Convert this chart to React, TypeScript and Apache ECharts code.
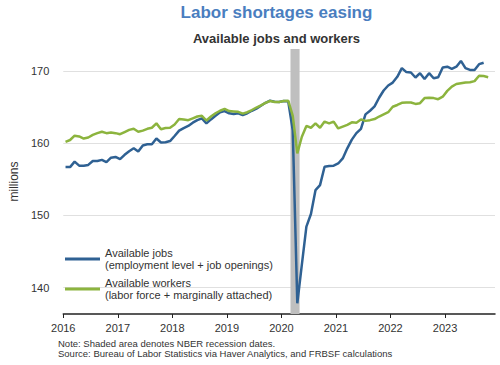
import React, { useEffect, useRef } from 'react';
import * as echarts from 'echarts';

// Monthly data, January 2016 onward (millions)
const START_YEAR = 2016;
const yearTicks = [2016, 2017, 2018, 2019, 2020, 2021, 2022, 2023];

// Available jobs (employment level + job openings), Jan 2016 – Sep 2023
const availableJobs = [
  156.7, 156.7, 157.45, 156.9, 156.9, 157.0, 157.55, 157.55, 157.7, 157.4, 158.0, 158.1,
  157.8, 158.4, 158.9, 159.3, 158.85, 159.7, 159.85, 159.85, 160.65, 160.1, 160.15, 160.3,
  161.0, 161.75, 162.1, 162.4, 162.85, 163.2, 163.45, 162.75, 163.3, 163.8, 164.3, 164.45,
  164.15, 164.05, 164.15, 163.9, 164.15, 164.5, 164.8, 165.2, 165.6, 165.9, 165.75, 165.7,
  165.85, 165.8, 161.8, 137.85, 143.2, 148.45, 150.2, 153.5, 154.2, 156.75, 156.85, 156.9,
  157.2, 157.9, 159.3, 160.5, 161.4, 162.0, 164.0, 164.5, 165.1, 166.3, 167.3, 168.0,
  168.4, 169.2, 170.4, 169.85, 169.8, 169.1, 169.7, 168.9, 169.7, 169.0, 169.15, 170.5,
  170.6, 170.3, 170.6, 171.4, 170.4, 170.15, 170.15, 170.95, 171.15,
];

// Available workers (labor force + marginally attached), Jan 2016 – Oct 2023
const availableWorkers = [
  160.2, 160.45, 161.05, 160.95, 160.65, 160.8, 161.15, 161.4, 161.6, 161.4, 161.5, 161.4,
  161.25, 161.55, 161.85, 162.0, 161.6, 161.75, 162.0, 162.15, 162.75, 161.95, 162.1, 162.15,
  162.6, 163.35, 163.3, 163.2, 163.45, 163.7, 163.8, 163.15, 163.7, 164.15, 164.5, 164.75,
  164.45, 164.4, 164.35, 164.1, 164.3, 164.6, 164.95, 165.25, 165.6, 165.85, 165.7, 165.7,
  165.85, 165.9, 163.8, 158.6, 160.9, 162.4, 162.15, 162.75, 162.15, 163.0, 162.75, 163.0,
  162.05, 162.3, 162.55, 162.9, 162.85, 163.3, 163.1, 163.2, 163.35, 163.7, 164.0, 164.3,
  165.05, 165.3, 165.6, 165.65, 165.65, 165.45, 165.55, 166.25, 166.3, 166.25, 166.1, 166.45,
  167.25, 167.85, 168.2, 168.3, 168.4, 168.45, 168.6, 169.35, 169.3, 169.15,
];

// NBER recession months shaded: March–April 2020 (year, month)
const recessionStart = [2020, 3];
const recessionEnd = [2020, 4];

const seriesNames = [
  'Available jobs\n(employment level + job openings)',
  'Available workers\n(labor force + marginally attached)',
];

const noteLines = [
  'Note: Shaded area denotes NBER recession dates.',
  'Source: Bureau of Labor Statistics via Haver Analytics, and FRBSF calculations',
];

const FONT = '"Liberation Sans", Arial, sans-serif';

const toPoints = (vals: number[]) =>
  vals.map((v, i) => [START_YEAR + (i + 0.5) / 12, v]);

export default function App() {
  const ref = useRef<HTMLDivElement>(null);

  useEffect(() => {
    document.body.style.margin = '0';
    if (!ref.current) return;
    const chart = echarts.init(ref.current, undefined, { renderer: 'svg' });
    const recStartX = recessionStart[0] + (recessionStart[1] - 1) / 12;
    const recEndX = recessionEnd[0] + recessionEnd[1] / 12;

    chart.setOption({
      animation: false,
      backgroundColor: '#ffffff',
      textStyle: { fontFamily: FONT },
      grid: { left: 58, right: 5, top: 49, bottom: 51, containLabel: false },
      graphic: [
        {
          type: 'text',
          x: 276.5,
          y: 12,
          style: {
            text: 'Labor shortages easing',
            fontFamily: FONT,
            fontSize: 17,
            fontWeight: 'bold',
            fill: '#4a7ebf',
            align: 'center',
            verticalAlign: 'middle',
          },
        },
        {
          type: 'text',
          x: 276.5,
          y: 38,
          style: {
            text: 'Available jobs and workers',
            fontFamily: FONT,
            fontSize: 13,
            fontWeight: 'bold',
            fill: '#333333',
            align: 'center',
            verticalAlign: 'middle',
          },
        },
        ...noteLines.map((t, i) => ({
          type: 'text',
          x: 58,
          y: 343.7 + i * 9.7,
          style: {
            text: t,
            fontFamily: FONT,
            fontSize: 9.5,
            fill: '#333333',
            align: 'left',
            verticalAlign: 'middle',
          },
        })),
      ],
      legend: {
        orient: 'vertical',
        left: 65,
        top: 247,
        itemWidth: 35,
        itemHeight: 3,
        itemGap: 6,
        icon: 'rect',
        padding: 0,
        data: seriesNames,
        textStyle: { fontFamily: FONT, fontSize: 11, lineHeight: 12, color: '#333333' },
      },
      xAxis: {
        type: 'value',
        min: START_YEAR,
        max: 2023 + 11 / 12,
        interval: 1,
        axisLine: { show: true, onZero: false, lineStyle: { color: '#222222', width: 1.5 } },
        axisTick: { show: true, length: 4, customValues: yearTicks, lineStyle: { color: '#222222', width: 1 } },
        axisLabel: {
          customValues: yearTicks,
          formatter: (v: number) => String(Math.round(v)),
          fontSize: 11,
          color: '#333333',
          margin: 8,
          fontFamily: FONT,
        },
        splitLine: { show: false },
      },
      yAxis: {
        type: 'value',
        min: 136.36,
        max: 173.05,
        name: 'millions',
        nameLocation: 'middle',
        nameGap: 42,
        nameTextStyle: { fontSize: 12, color: '#333333', fontFamily: FONT },
        axisLine: { show: false },
        axisTick: { show: false },
        axisLabel: {
          showMinLabel: false,
          showMaxLabel: false,
          fontSize: 11,
          color: '#333333',
          margin: 14,
          fontFamily: FONT,
        },
        splitLine: {
          show: true,
          showMinLine: false,
          showMaxLine: false,
          lineStyle: { color: '#e0e0e0', width: 1 },
        },
      },
      series: [
        {
          name: seriesNames[0],
          type: 'line',
          data: toPoints(availableJobs),
          showSymbol: false,
          symbol: 'none',
          lineStyle: { color: '#2f6193', width: 2.5 },
          itemStyle: { color: '#2f6193' },
          z: 3,
          markArea: {
            silent: true,
            itemStyle: { color: '#bfbfbf', opacity: 1 },
            data: [[{ xAxis: recStartX }, { xAxis: recEndX }]],
          },
        },
        {
          name: seriesNames[1],
          type: 'line',
          data: toPoints(availableWorkers),
          showSymbol: false,
          symbol: 'none',
          lineStyle: { color: '#8cb43e', width: 2.5 },
          itemStyle: { color: '#8cb43e' },
          z: 4,
        },
      ],
    });

    return () => chart.dispose();
  }, []);

  return <div ref={ref} style={{ width: 500, height: 365 }} />;
}
